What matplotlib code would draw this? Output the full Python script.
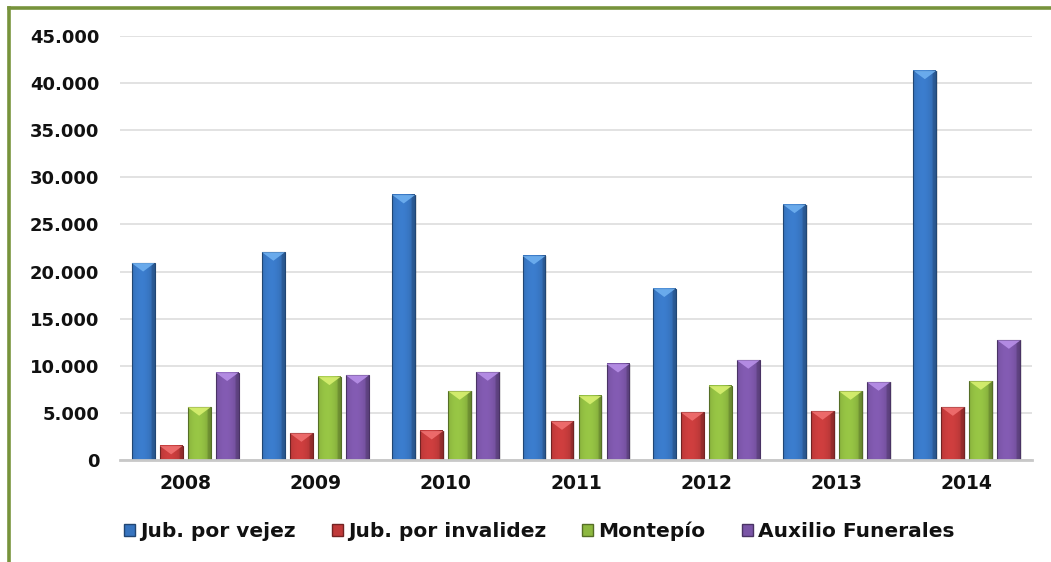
import matplotlib
matplotlib.use("Agg")
import matplotlib.pyplot as plt
import numpy as np
from matplotlib.lines import Line2D
from matplotlib.patches import Polygon, Patch
from matplotlib.colors import to_rgb

years = ["2008", "2009", "2010", "2011", "2012", "2013", "2014"]
series_names = ["Jub. por vejez", "Jub. por invalidez", "Montepío", "Auxilio Funerales"]
vejez = [20900, 22050, 28130, 21660, 18200, 27100, 41320]
invalidez = [1500, 2830, 3080, 4100, 5060, 5170, 5590]
montepio = [5600, 8850, 7290, 6800, 7860, 7290, 8350]
funerales = [9280, 8990, 9310, 10190, 10590, 8250, 12700]
yticks = [0, 5000, 10000, 15000, 20000, 25000, 30000, 35000, 40000, 45000]
ytick_labels = ["0", "5.000", "10.000", "15.000", "20.000", "25.000", "30.000", "35.000", "40.000", "45.000"]

colors = ["#3774BF", "#C03A3A", "#8DB840", "#7A55A6"]
tops = ["#6FB0F0", "#F07070", "#D8F070", "#B890E8"]

FONT = "DejaVu Sans"
fig = plt.figure(figsize=(10.51, 5.62), dpi=100)
ax = fig.add_axes([120/1051, 1-460/562, 912/1051, 424/562])

x = np.arange(len(years))
width = 0.176
pitch = 0.215
data = [vejez, invalidez, montepio, funerales]

def shade(c, f):
    r = np.array(to_rgb(c))
    return np.clip(r * f, 0, 1)

for i, (vals, c, tc) in enumerate(zip(data, colors, tops)):
    xs = x + (i - 1.5) * pitch
    # shadow
    ax.bar(xs + 0.012, vals, width, color="#000000", alpha=0.10, zorder=2, linewidth=0)
    for xc, v in zip(xs, vals):
        x0, x1 = xc - width/2, xc + width/2
        t = np.linspace(0, 1, 40)
        prof = 0.70 + 0.38 * np.sin(np.pi * (0.25 + 0.6 * t))
        prof[t > 0.85] *= 0.85
        base = np.array(to_rgb(c))
        img = np.clip(base[None, :] * prof[:, None], 0, 1)[None, :, :]
        ax.imshow(img, extent=(x0, x1, 0, v), aspect="auto", zorder=3, interpolation="bilinear")
        ax.add_patch(plt.Rectangle((x0, 0), width, v, fill=False, edgecolor=shade(c, 0.6), lw=0.8, zorder=4))
        dh = 900
        ax.add_patch(Polygon([[x0, v], [x1, v], [xc, v - dh]], closed=True,
                             facecolor=tc, edgecolor="none", alpha=0.9, zorder=5))

ax.set_xlim(-0.5, len(years) - 0.5)
ax.set_ylim(0, 45000)
ax.set_yticks(yticks)
ax.set_yticklabels(ytick_labels)
ax.set_xticks(x)
ax.set_xticklabels(years)
ax.yaxis.grid(True, color="#DDDDDD", lw=1.2, zorder=0)
ax.set_axisbelow(True)
for s in ["top", "right", "left"]:
    ax.spines[s].set_visible(False)
ax.spines["bottom"].set_color("#C8C8C8")
ax.spines["bottom"].set_linewidth(2)
ax.spines["bottom"].set_zorder(6)
ax.tick_params(axis="both", length=0)
ax.tick_params(axis="y", pad=15)
ax.tick_params(axis="x", pad=10)
for lab in ax.get_yticklabels():
    lab.set_fontfamily(FONT)
    lab.set_fontweight("bold")
    lab.set_fontsize(13)
    lab.set_color("#111111")
for lab in ax.get_xticklabels():
    lab.set_fontfamily(FONT)
    lab.set_fontweight("bold")
    lab.set_fontsize(13.5)
    lab.set_color("#111111")

handles = [Patch(facecolor=c, edgecolor=shade(c, 0.6)) for c in colors]
leg = fig.legend(handles, series_names, loc="center", bbox_to_anchor=(539/1051, 1-531/562),
                 ncol=4, frameon=False, handlelength=0.55, handleheight=0.55, handletextpad=0.25,
                 columnspacing=1.8, prop={"family": FONT, "weight": "bold", "size": 14.5})
for t in leg.get_texts():
    t.set_color("#111111")

green = "#77933C"
fig.add_artist(Line2D([9/1051, 9/1051], [0, 1-8/562], color=green, lw=2.6, transform=fig.transFigure))
fig.add_artist(Line2D([9/1051, 1], [1-8/562, 1-8/562], color=green, lw=2.6, transform=fig.transFigure))

fig.savefig("out.png", dpi=100)
